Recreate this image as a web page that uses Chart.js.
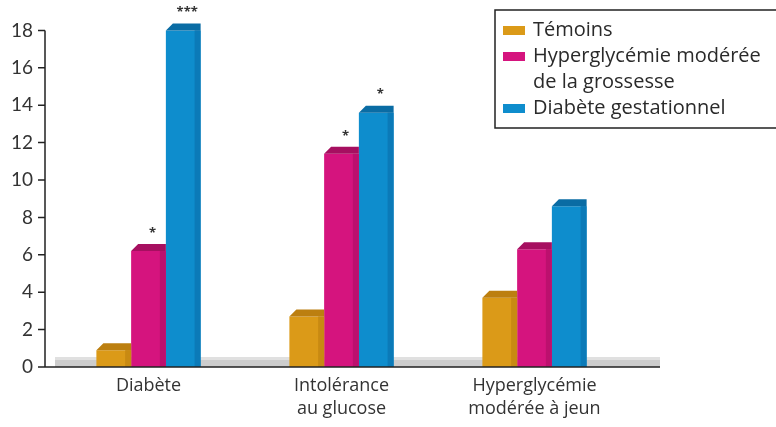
<!DOCTYPE html>
<html>
<head>
<meta charset="utf-8">
<script src="https://cdn.jsdelivr.net/npm/chart.js@4"></script>
<style>
  body { margin: 0; background: #fff; overflow: hidden; }
  #wrap { width: 776px; height: 427px; position: relative; }
</style>
</head>
<body>
<div id="wrap"><canvas id="chart"></canvas></div>
<script>
const categories = ['Diabète', ['Intolérance', 'au glucose'], ['Hyperglycémie', 'modérée à jeun']];
const seriesNames = ['Témoins', ['Hyperglycémie modérée', 'de la grossesse'], 'Diabète gestationnel'];
const temoins = [0.9, 2.7, 3.7];
const hyperGrossesse = [6.2, 11.4, 6.3];
const diabeteGest = [18.0, 13.6, 8.6];
const starsTemoins = ['', '', ''];
const starsHyper = ['*', '*', ''];
const starsDiabete = ['***', '*', ''];
const yTicks = [0, 2, 4, 6, 8, 10, 12, 14, 16, 18];

const colors = ['#DB9A18', '#D5147E', '#0E8DCD'];
const capColors = ['#BC7F10', '#A60F60', '#0A6CA4'];
const sideColors = ['#C88A12', '#BC106E', '#0B7AB8'];
const FONT = '"Open Sans", sans-serif';

// 3D-looking caps, floor band, axis lines, stars and legend
const decor = {
  id: 'decor',
  beforeDatasetsDraw(chart) {
    const { ctx } = chart;
    const y = chart.scales.y;
    const y0 = y.getPixelForValue(0);
    ctx.save();
    ctx.fillStyle = '#cdcdcd';
    ctx.fillRect(55, y0 - 10, 605, 10);
    ctx.fillStyle = '#e0e0e0';
    ctx.fillRect(55, y0 - 10, 605, 3);
    ctx.restore();
  },
  afterDatasetsDraw(chart) {
    const { ctx } = chart;
    const d = 7;
    chart.data.datasets.forEach((ds, i) => {
      const meta = chart.getDatasetMeta(i);
      meta.data.forEach((bar, j) => {
        const x0 = bar.x - bar.width / 2;
        const x1 = bar.x + bar.width / 2;
        const top = bar.y;
        const base = bar.base;
        ctx.save();
        // side shade
        ctx.fillStyle = sideColors[i];
        ctx.fillRect(x1 - 6, top, 6, base - top);
        // top cap with bevelled left corner
        ctx.fillStyle = capColors[i];
        ctx.beginPath();
        ctx.moveTo(x0, top);
        ctx.lineTo(x0 + d, top - d);
        ctx.lineTo(x1, top - d);
        ctx.lineTo(x1, top);
        ctx.closePath();
        ctx.fill();
        // star annotation
        const s = ds.stars[j];
        if (s) {
          ctx.fillStyle = '#333';
          ctx.font = 'bold 13px ' + FONT;
          ctx.textAlign = 'center';
          ctx.textBaseline = 'middle';
          ctx.fillText(s, bar.x + 4, top - d - 11);
        }
        ctx.restore();
      });
    });
  },
  afterDraw(chart) {
    const { ctx } = chart;
    const y = chart.scales.y;
    const y0 = y.getPixelForValue(0);
    const yTop = y.getPixelForValue(18);
    ctx.save();
    ctx.strokeStyle = '#222';
    ctx.lineWidth = 1.5;
    ctx.beginPath();
    ctx.moveTo(45, yTop);
    ctx.lineTo(45, y0);
    ctx.lineTo(660, y0);
    yTicks.forEach(v => {
      const py = y.getPixelForValue(v);
      ctx.moveTo(38, py);
      ctx.lineTo(45, py);
    });
    ctx.stroke();

    // legend frame, open on the right where it leaves the picture
    ctx.beginPath();
    ctx.moveTo(chart.width + 5, 10);
    ctx.lineTo(495, 10);
    ctx.lineTo(495, 128);
    ctx.lineTo(chart.width + 5, 128);
    ctx.stroke();
    ctx.font = '20px ' + FONT;
    ctx.textBaseline = 'middle';
    ctx.textAlign = 'left';
    let row = 30;
    chart.data.datasets.forEach((ds, i) => {
      ctx.fillStyle = colors[i];
      ctx.fillRect(503, row - 4, 22, 9);
      ctx.fillStyle = '#2a2a2a';
      const lines = Array.isArray(ds.label) ? ds.label : [ds.label];
      lines.forEach(t => {
        ctx.fillText(t, 533, row);
        row += 26;
      });
    });
    ctx.restore();
  }
};

const datasetsData = [temoins, hyperGrossesse, diabeteGest];
const datasetsStars = [starsTemoins, starsHyper, starsDiabete];

new Chart(document.getElementById('chart'), {
  type: 'bar',
  data: {
    labels: categories,
    datasets: datasetsData.map((vals, i) => ({
      label: seriesNames[i],
      data: vals,
      stars: datasetsStars[i],
      backgroundColor: colors[i],
      borderWidth: 0,
      categoryPercentage: 0.54,
      barPercentage: 1.0,
      clip: false
    }))
  },
  options: {
    responsive: true,
    maintainAspectRatio: false,
    animation: false,
    layout: { padding: { top: 27, right: 145, bottom: 0, left: 0 } },
    plugins: {
      legend: { display: false },
      tooltip: { enabled: false }
    },
    scales: {
      x: {
        grid: { display: false, drawTicks: false },
        border: { display: false },
        ticks: {
          color: '#333',
          padding: 8,
          font: { family: FONT, size: 18, lineHeight: 1.25 }
        },
        afterFit(scale) { scale.height = 60; }
      },
      y: {
        min: 0,
        max: 18,
        grid: { display: false, drawTicks: false },
        border: { display: false },
        ticks: {
          stepSize: 2,
          color: '#333',
          padding: 19,
          font: { family: 'Lato, sans-serif', size: 19 }
        },
        afterFit(scale) { scale.width = 52; }
      }
    }
  },
  plugins: [decor]
});
</script>
</body>
</html>
